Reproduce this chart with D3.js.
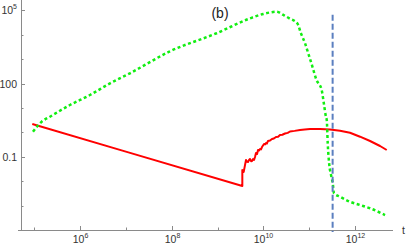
<!DOCTYPE html>
<html><head><meta charset="utf-8">
<script src="https://cdn.jsdelivr.net/npm/d3@7"></script>
<style>body{margin:0;background:#fff}svg{display:block}text{font-family:"Liberation Sans",Arial,sans-serif}</style>
</head><body><svg id="c" width="407" height="246"></svg>
<script>
// ---- data ----
const redT = [9.1e4, 1e7, 3.48e9, 3.48e9, 3.73e9, 3.98e9, 4.19e9, 4.4e9, 4.63e9, 4.85e9, 5.12e9, 5.4e9, 5.66e9, 5.95e9, 6.27e9, 6.58e9, 6.92e9, 7.3e9, 7.66e9, 8.05e9, 8.47e9, 8.9e9, 9.35e9, 1.035e10, 1.09e10, 1.143e10, 1.2e10, 1.265e10, 1.4e10, 1.545e10, 1.7e10, 1.89e10, 2.1e10, 2.31e10, 2.6e10, 2.97e10, 3.4e10, 3.82e10, 4.8e10, 6.31e10, 8.0e10, 1.045e11, 1.726e11, 2.85e11, 4.71e11, 7.78e11, 1.288e12, 2.13e12, 3.52e12, 4.92e12];
const redY = [2.2, 0.163, 0.0063, 0.0287, 0.024, 0.0457, 0.074, 0.062, 0.0617, 0.072, 0.0813, 0.066, 0.0676, 0.08, 0.074, 0.0977, 0.143, 0.13, 0.19, 0.18, 0.209, 0.2, 0.251, 0.333, 0.32, 0.366, 0.35, 0.443, 0.46, 0.535, 0.56, 0.646, 0.66, 0.78, 0.8, 0.897, 0.95, 1.084, 1.15, 1.25, 1.3, 1.37, 1.37, 1.31, 1.17, 0.968, 0.664, 0.443, 0.276, 0.189];
const greenT = [9.42e4, 1.46e5, 2.21e5, 6.03e5, 1.65e6, 4.52e6, 1.23e7, 9.2e7, 9.55e8, 5.13e9, 1e10, 1.95e10, 2.73e10, 3.69e10, 5.5e10, 6.61e10, 8.13e10, 9.55e10, 1.148e11, 1.445e11, 1.86e11, 2.09e11, 2.32e11, 2.42e11, 2.54e11, 2.75e11, 3.0e11, 3.27e11, 3.48e11, 4.71e11, 7.78e11, 1.288e12, 2.13e12, 4.52e12];
const greenY = [1.06, 2.73, 4.37, 13.2, 33.9, 102, 263, 2090, 11480, 46800, 70800, 87100, 64600, 46800, 29500, 11480, 4467, 1738, 575, 140, 57.5, 15.5, 4.37, 3.2, 0.356, 0.046, 0.0179, 0.00818, 0.00318, 0.00231, 0.00144, 0.00106, 7.76e-4, 4.11e-4];
const markerT = 3.25e11;
const markerY = [6.5e4, 1e-4];
const xTicks = [1e5, 1e6, 1e7, 1e8, 1e9, 1e10, 1e11, 1e12];
const xTickLabels = [["",""], ["10","6"], ["",""], ["10","8"], ["",""], ["10","10"], ["",""], ["10","12"]];
const yTicks = [1e5, 1e4, 1e3, 100, 10, 1, 0.1, 0.01, 1e-3];
const yTickLabels = [["10","5"], "", "", "100", "", "", "0.1", "", ""];
const title = "(b)";
const xLabel = "t";

// ---- scales ----
const x = d3.scaleLog().domain([1e6, 1e12]).range([80, 355]);
const y = d3.scaleLog().domain([1e5, 1e-4]).range([10.3, 230]);
const svg = d3.select("#c");
const axisColor = "#8a8a8a";

// axes lines
svg.append("line").attr("x1", 18).attr("x2", 393).attr("y1", 230.5).attr("y2", 230.5).attr("stroke", axisColor);
svg.append("line").attr("x1", 21.5).attr("x2", 21.5).attr("y1", 0).attr("y2", 231).attr("stroke", axisColor);

// x ticks
xTicks.forEach((t, i) => {
  const major = xTickLabels[i][0] !== "";
  const px = Math.round(x(t)) + 0.5;
  svg.append("line").attr("x1", px).attr("x2", px).attr("y1", 230).attr("y2", 230 - (major ? 4 : 2.5)).attr("stroke", axisColor);
  if (major) {
    const tx = svg.append("text").attr("x", px).attr("y", 243).attr("text-anchor", "middle").attr("font-size", 10.5).attr("fill", "#333");
    tx.append("tspan").text(xTickLabels[i][0]);
    tx.append("tspan").attr("font-size", 7).attr("dy", -5).text(xTickLabels[i][1]);
  }
});
// y ticks
yTicks.forEach((t, i) => {
  const lab = yTickLabels[i];
  const major = lab !== "";
  const py = Math.round(y(t)) + 0.5;
  svg.append("line").attr("x1", 21).attr("x2", 21 + (major ? 4 : 2.5)).attr("y1", py).attr("y2", py).attr("stroke", axisColor);
  if (major) {
    const tx = svg.append("text").attr("x", 17).attr("y", py + 3.8).attr("text-anchor", "end").attr("font-size", 10.5).attr("fill", "#333");
    if (Array.isArray(lab)) {
      tx.append("tspan").text(lab[0]);
      tx.append("tspan").attr("font-size", 7).attr("dy", -5).text(lab[1]);
    } else tx.text(lab);
  }
});

// axis label & title
svg.append("text").attr("x", 402).attr("y", 234).attr("font-size", 10.5).attr("fill", "#333").text(xLabel);
svg.append("text").attr("x", 220).attr("y", 18).attr("text-anchor", "middle").attr("font-size", 14).attr("fill", "#222").text(title);

// curves
const line = d3.line().x(d => x(d[0])).y(d => y(d[1]));
svg.append("path").attr("d", line(redT.map((t, i) => [t, redY[i]])))
  .attr("fill", "none").attr("stroke", "#ff0000").attr("stroke-width", 2).attr("stroke-linejoin", "round");
svg.append("path").attr("d", line.curve(d3.curveMonotoneX)(greenT.map((t, i) => [t, greenY[i]])))
  .attr("fill", "none").attr("stroke", "#11ee11").attr("stroke-width", 2.5).attr("stroke-dasharray", "3,2.6");
svg.append("line").attr("x1", x(markerT)).attr("x2", x(markerT)).attr("y1", y(markerY[0])).attr("y2", y(markerY[1]) + 2)
  .attr("stroke", "#5b7fc0").attr("stroke-width", 2).attr("stroke-dasharray", "6,3");
</script></body></html>
